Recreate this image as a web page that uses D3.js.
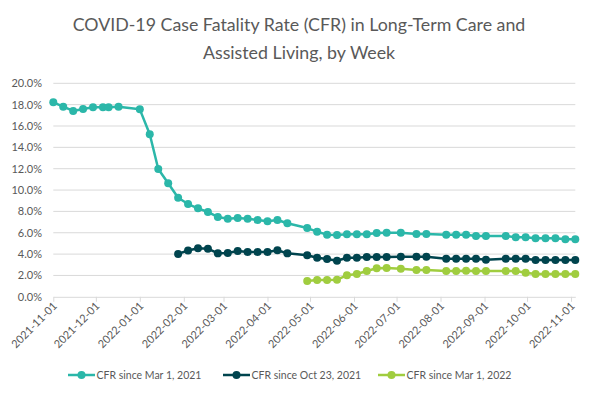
<!DOCTYPE html>
<html>
<head>
<meta charset="utf-8">
<script src="https://cdn.jsdelivr.net/npm/d3@7"></script>
<style>
  body { margin: 0; background: #fff; }
  text { font-family: Lato, "Open Sans", sans-serif; }
</style>
</head>
<body>
<svg id="chart" width="600" height="394"></svg>
<script>
const weeks = ["2021-11-01","2021-11-08","2021-11-15","2021-11-22","2021-11-29","2021-12-06","2021-12-10","2021-12-17",
  "2022-01-01","2022-01-08","2022-01-14","2022-01-21","2022-01-28","2022-02-04","2022-02-11","2022-02-18","2022-02-25",
  "2022-03-04","2022-03-11","2022-03-18","2022-03-25","2022-04-01","2022-04-08","2022-04-15","2022-04-29","2022-05-06",
  "2022-05-13","2022-05-20","2022-05-27","2022-06-03","2022-06-10","2022-06-17","2022-06-24","2022-07-04","2022-07-15",
  "2022-07-22","2022-08-05","2022-08-12","2022-08-19","2022-08-26","2022-09-02","2022-09-16","2022-09-23","2022-09-30",
  "2022-10-07","2022-10-14","2022-10-21","2022-10-28","2022-11-04"];

// CFR values in percent
const cfrMar2021 = [18.22,17.81,17.41,17.59,17.75,17.75,17.75,17.81,17.56,15.22,11.97,10.63,9.28,8.69,8.29,7.94,7.48,
  7.32,7.38,7.32,7.19,7.07,7.19,6.89,6.44,6.10,5.82,5.79,5.85,5.85,5.85,5.98,6.00,6.00,5.88,5.88,5.82,5.82,5.82,
  5.70,5.70,5.70,5.57,5.57,5.48,5.48,5.48,5.39,5.39];
const cfrOct2021 = [null,null,null,null,null,null,null,null,null,null,null,null,
  4.02,4.34,4.54,4.51,4.07,4.10,4.29,4.20,4.20,4.20,4.36,4.07,
  3.89,3.66,3.54,3.38,3.66,3.66,3.73,3.73,3.73,3.76,3.76,3.76,
  3.57,3.57,3.57,3.57,3.48,3.57,3.57,3.57,3.45,3.45,3.45,3.45,3.45];
const cfrMar2022 = [null,null,null,null,null,null,null,null,null,null,null,null,
  null,null,null,null,null,null,null,null,null,null,null,null,
  1.48,1.57,1.57,1.60,2.01,2.14,2.42,2.67,2.70,2.63,2.51,2.51,
  2.42,2.42,2.44,2.42,2.42,2.42,2.42,2.26,2.14,2.14,2.14,2.14,2.14];

const seriesNames = ["CFR since Mar 1, 2021", "CFR since Oct 23, 2021", "CFR since Mar 1, 2022"];
const seriesColors = ["#2bb7a9", "#00444e", "#a0cd3f"];
const titleLines = ["COVID-19 Case Fatality Rate (CFR) in Long-Term Care and", "Assisted Living, by Week"];

const parse = d3.timeParse("%Y-%m-%d");
const dates = weeks.map(parse);
const series = [cfrMar2021, cfrOct2021, cfrMar2022].map((vals, i) => ({
  name: seriesNames[i],
  color: seriesColors[i],
  points: vals.map((v, j) => ({ date: dates[j], value: v == null ? null : v / 100 }))
}));

const width = 600, height = 394;
const margin = { top: 83.3, right: 24.7, bottom: 97.2, left: 53.3 };

const svg = d3.select("#chart");

const x = d3.scaleTime()
  .domain([dates[0], dates[dates.length - 1]])
  .range([margin.left, width - margin.right]);

const y = d3.scaleLinear()
  .domain([0, 0.2])
  .range([height - margin.bottom, margin.top]);

// title
const title = svg.append("g");
titleLines.forEach((t, i) => {
  title.append("text")
    .attr("x", 299)
    .attr("y", 31 + i * 27.6)
    .attr("text-anchor", "middle")
    .attr("fill", "#595959")
    .attr("font-size", 18)
    .text(t);
});
// fit the first line to the reference width
const t0 = title.select("text").node();
const fs = 18 * 453 / t0.getComputedTextLength();
title.selectAll("text").attr("font-size", fs);

// gridlines + y labels
const yTicks = d3.range(0, 0.2001, 0.02);
svg.append("g")
  .selectAll("line")
  .data(yTicks.slice(1))
  .join("line")
  .attr("x1", margin.left).attr("x2", width - margin.right)
  .attr("y1", d => y(d)).attr("y2", d => y(d))
  .attr("stroke", "#d9d9d9").attr("stroke-width", 1);

svg.append("g")
  .selectAll("text")
  .data(yTicks)
  .join("text")
  .attr("x", 42)
  .attr("y", d => y(d))
  .attr("dy", "0.35em")
  .attr("text-anchor", "end")
  .attr("fill", "#595959")
  .attr("font-size", 11)
  .text(d3.format(".1%"));

// x axis
const xAxis = d3.axisBottom(x)
  .ticks(d3.timeMonth.every(1))
  .tickFormat(d3.timeFormat("%Y-%m-%d"))
  .tickSize(5)
  .tickSizeOuter(0);

const gx = svg.append("g")
  .attr("transform", `translate(0,${y(0)})`)
  .call(xAxis);
gx.select(".domain").attr("stroke", "#d9d9d9");
gx.selectAll(".tick line").attr("stroke", "#d9d9d9");
gx.selectAll(".tick text")
  .attr("fill", "#595959")
  .attr("font-size", 11)
  .attr("font-family", "Lato, sans-serif")
  .attr("text-anchor", "end")
  .attr("dy", 0)
  .attr("y", 0)
  .attr("transform", "translate(4,10) rotate(-45)");

// lines + markers
const line = d3.line()
  .defined(d => d.value != null)
  .x(d => x(d.date))
  .y(d => y(d.value));

const gs = svg.append("g")
  .selectAll("g")
  .data(series)
  .join("g");

gs.append("path")
  .attr("fill", "none")
  .attr("stroke", d => d.color)
  .attr("stroke-width", 2.5)
  .attr("stroke-linejoin", "round")
  .attr("d", d => line(d.points));

gs.selectAll("circle")
  .data(d => d.points.filter(p => p.value != null).map(p => ({ ...p, color: d.color })))
  .join("circle")
  .attr("cx", d => x(d.date))
  .attr("cy", d => y(d.value))
  .attr("r", 4)
  .attr("fill", d => d.color);

// legend
const legendX = [68, 223, 378];
const legend = svg.append("g")
  .selectAll("g")
  .data(series)
  .join("g")
  .attr("transform", (d, i) => `translate(${legendX[i]},375)`);

legend.append("line")
  .attr("x1", 0).attr("x2", 27)
  .attr("stroke", d => d.color)
  .attr("stroke-width", 2.5);
legend.append("circle")
  .attr("cx", 13.5).attr("r", 4)
  .attr("fill", d => d.color);
legend.append("text")
  .attr("x", 28.5)
  .attr("dy", "0.35em")
  .attr("fill", "#595959")
  .attr("font-size", 10.5)
  .text(d => d.name);
</script>
</body>
</html>
